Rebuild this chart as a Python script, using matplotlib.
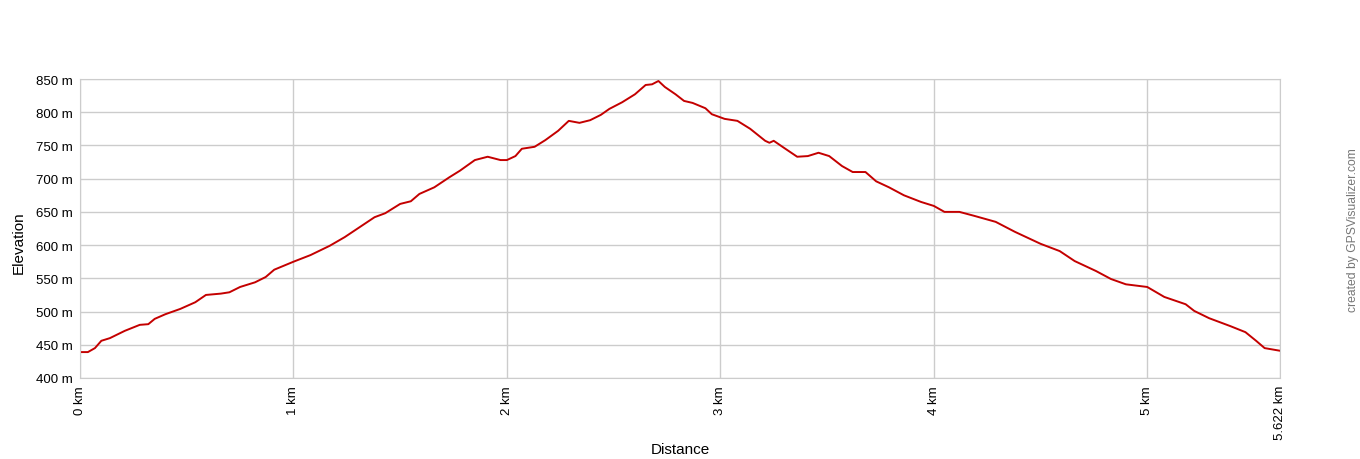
import matplotlib
matplotlib.use('Agg')
import matplotlib.pyplot as plt

plt.rcParams['font.family'] = ['Liberation Sans', 'DejaVu Sans']

# distance (km) and elevation (m), read from the profile
distancia_km = [0.0, 0.037, 0.07, 0.10, 0.14, 0.21, 0.28, 0.32, 0.35, 0.40, 0.47, 0.54,
                0.59, 0.66, 0.70, 0.75, 0.82, 0.87, 0.91, 1.0, 1.08, 1.17, 1.24, 1.31,
                1.38, 1.43, 1.50, 1.55, 1.59, 1.66, 1.73, 1.78, 1.85, 1.91, 1.97, 2.0,
                2.04, 2.07, 2.13, 2.18, 2.24, 2.29, 2.34, 2.39, 2.44, 2.48, 2.54, 2.60,
                2.65, 2.68, 2.71, 2.74, 2.79, 2.83, 2.87, 2.93, 2.96, 3.02, 3.08, 3.14,
                3.21, 3.23, 3.25, 3.30, 3.36, 3.41, 3.46, 3.51, 3.57, 3.62, 3.68, 3.73,
                3.79, 3.86, 3.94, 4.0, 4.05, 4.12, 4.19, 4.29, 4.38, 4.50, 4.59, 4.66,
                4.76, 4.83, 4.90, 5.0, 5.08, 5.18, 5.22, 5.29, 5.39, 5.46, 5.51, 5.55,
                5.622]
elevacao_m = [439, 439, 445, 456, 460, 471, 480, 481, 489, 496, 504, 514,
              525, 527, 529, 537, 544, 552, 563, 575, 585, 599, 612, 627,
              642, 648, 662, 666, 677, 687, 702, 712, 728, 733, 728, 728,
              734, 745, 748, 758, 772, 787, 784, 788, 796, 805, 815, 827,
              841, 842, 847, 838, 827, 817, 814, 806, 797, 790, 787, 775,
              757, 754, 757, 746, 733, 734, 739, 734, 719, 710, 710, 696,
              687, 675, 665, 659, 650, 650, 644, 635, 620, 602, 591, 576,
              561, 549, 541, 537, 522, 511, 501, 490, 478, 469, 456, 445,
              441]

x_ticks = [0, 1, 2, 3, 4, 5, 5.622]
x_labels = ['0 km', '1 km', '2 km', '3 km', '4 km', '5 km', '5.622 km']
y_ticks = [400, 450, 500, 550, 600, 650, 700, 750, 800, 850]
y_labels = [f'{v} m' for v in y_ticks]

fig = plt.figure(figsize=(13.6, 4.6), dpi=100)
ax = fig.add_axes([80 / 1360, 81 / 460, 1200 / 1360, 299 / 460])

ax.plot(distancia_km, elevacao_m, color='#c40000', linewidth=1.4)

ax.set_xlim(0, 5.622)
ax.set_ylim(400, 850)
ax.set_xticks(x_ticks)
ax.set_xticklabels(x_labels, rotation=90, fontsize=9.5)
ax.set_yticks(y_ticks)
ax.set_yticklabels(y_labels, fontsize=9.5)
ax.tick_params(length=0, pad=5)
ax.grid(True, color='#cccccc', linewidth=1)
for s in ax.spines.values():
    s.set_color('#cccccc')

fig.text(680 / 1360, 1 - 450 / 460, 'Distance', fontsize=11, ha='center', va='center')
fig.text(19 / 1360, 1 - 243 / 460, 'Elevation', fontsize=11, rotation=90,
         ha='center', va='center')

fig.text(1353 / 1360, 1 - 230 / 460, 'created by GPSVisualizer.com', rotation=90,
         color='#777777', fontsize=8.7, ha='center', va='center')

fig.savefig('out.png', dpi=100)
